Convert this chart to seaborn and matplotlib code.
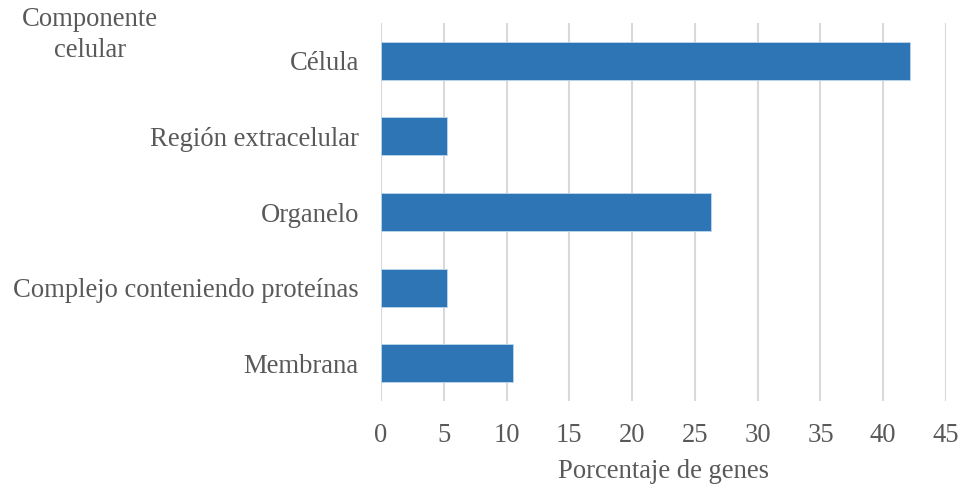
import matplotlib
matplotlib.use("Agg")
import matplotlib.pyplot as plt
import seaborn as sns
import pandas as pd

# datos: componente celular (GO) y porcentaje de genes
categorias = ["Célula", "Región extracelular", "Organelo",
              "Complejo conteniendo proteínas", "Membrana"]
porcentajes = [42.1, 5.26, 26.3, 5.26, 10.5]
ticks_x = [0, 5, 10, 15, 20, 25, 30, 35, 40, 45]

df = pd.DataFrame({"componente": categorias, "porcentaje": porcentajes})

sns.set_style("white")
plt.rcParams["font.family"] = ["Liberation Serif", "DejaVu Serif"]
gris = "#595959"
fs = 19.2

fig = plt.figure(figsize=(9.65, 4.9), dpi=100)
ax = fig.add_axes([381 / 965, 1 - 401 / 490, 565 / 965, 378 / 490])

sns.barplot(data=df, x="porcentaje", y="componente", orient="h",
            color="#2E75B6", width=0.5, saturation=1, ax=ax,
            edgecolor="#BDD7EE", linewidth=0.6)

ax.set_xlim(0, 45)
ax.set_ylim(4.5, -0.5)
ax.set_xticks(ticks_x)
ax.xaxis.grid(True, color="#D9D9D9", linewidth=1.5)
ax.set_axisbelow(True)
for s in ax.spines.values():
    s.set_visible(False)

ax.tick_params(axis="both", length=0, labelsize=fs, labelcolor=gris)
ax.tick_params(axis="y", pad=16)
ax.tick_params(axis="x", pad=16)
ax.set_ylabel("")
ax.set_xlabel("Porcentaje de genes", fontsize=fs, color=gris, labelpad=8)

fig.text(90 / 965, 1 - 35 / 490, "Componente\ncelular", ha="center", va="center",
         fontsize=fs, color=gris, linespacing=1.27)

fig.savefig("out.png", dpi=100)
